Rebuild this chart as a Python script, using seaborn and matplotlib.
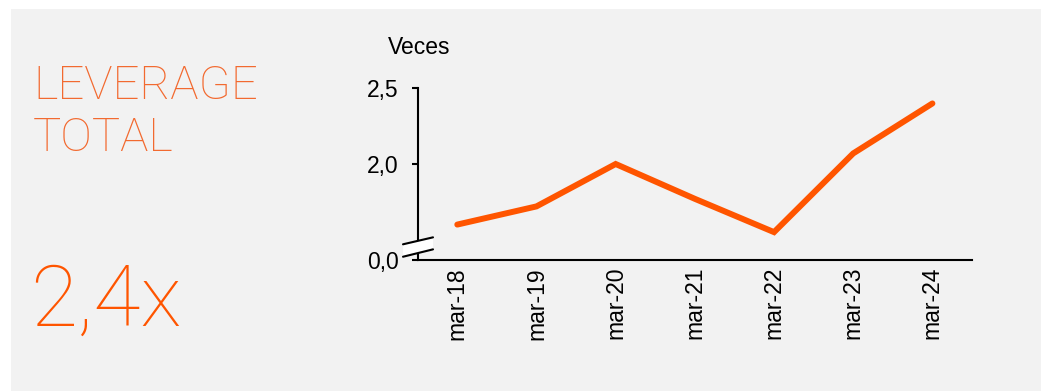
import matplotlib
matplotlib.use("Agg")
import matplotlib.pyplot as plt
from matplotlib.patches import Rectangle, Polygon
import seaborn as sns
import pandas as pd

# Leverage series (veces)
periods = ["mar-18", "mar-19", "mar-20", "mar-21", "mar-22", "mar-23", "mar-24"]
leverage = [1.60, 1.72, 2.00, 1.77, 1.55, 2.07, 2.40]

# Broken axis: the bottom of the axis stands for 0,0
axis_floor = 1.366
y_ticks = [axis_floor, 2.0, 2.5]
y_tick_labels = ["0,0", "2,0", "2,5"]

latest_value = "2,4x"

ORANGE = "#FF5500"
TITLE_ORANGE = "#F26A30"
PANEL = "#F2F2F2"
THIN = ["Roboto", "DejaVu Sans"]

sns.set_theme(style="white")
plt.rcParams["font.family"] = ["Liberation Sans", "DejaVu Sans"]

W, H = 1041, 391
fig = plt.figure(figsize=(W / 100, H / 100), dpi=100)
fig.patch.set_facecolor("white")
fig.patches.append(Rectangle((11 / W, 0), 1 - 11 / W, 1 - 9 / H,
                             transform=fig.transFigure, facecolor=PANEL,
                             edgecolor="none", zorder=-10))

ax = fig.add_axes([417.7 / W, 1 - 260 / H, (972 - 417.7) / W, (260 - 88.3) / H])
ax.set_facecolor("none")

df = pd.DataFrame({"periodo": periods, "leverage": leverage})
sns.lineplot(data=df, x="periodo", y="leverage", ax=ax, color=ORANGE,
             linewidth=4.3, solid_capstyle="round", solid_joinstyle="miter",
             sort=False)

ax.set_xlim(-0.5, len(periods) - 0.5)
ax.set_ylim(axis_floor, 2.5)
ax.set_yticks(y_ticks)
ax.set_yticklabels(y_tick_labels)
ax.set_xticks(range(len(periods)))
ax.set_xticklabels(periods, rotation=90)
ax.set_xlabel("")
ax.set_ylabel("")

for side in ("top", "right"):
    ax.spines[side].set_visible(False)
for side in ("left", "bottom"):
    ax.spines[side].set_color("black")
    ax.spines[side].set_linewidth(1.5)

ax.tick_params(axis="y", direction="out", length=4.5, width=1.5, color="black",
               labelsize=16.5, labelcolor="black", pad=9, left=True)
ax.tick_params(axis="x", length=0, labelsize=16.5, labelcolor="black", pad=5)

# Axis break marks
t = ax.transAxes
x0, x1 = -0.0265, 0.0276
brk = Polygon([(x0, 0.019), (x1, 0.062), (x1, 0.132), (x0, 0.0914)],
              closed=True, transform=t, facecolor="white", edgecolor="none",
              clip_on=False, zorder=5)
ax.add_patch(brk)
ax.plot([x0, x1], [0.0914, 0.132], transform=t, color="black", lw=1.5,
        clip_on=False, zorder=6)
ax.plot([x0, x1], [0.019, 0.062], transform=t, color="black", lw=1.5,
        clip_on=False, zorder=6)

ax.text(-0.0536, 1.235, "Veces", transform=t, ha="left", va="center",
        fontsize=16.5, color="black")

# Headline and latest value
fig.text(33 / W, 1 - 99.3 / H, "LEVERAGE", family=THIN,
         weight="light", fontsize=34, color=TITLE_ORANGE, va="baseline")
fig.text(33 / W, 1 - 151 / H, "TOTAL", family=THIN,
         weight="light", fontsize=34, color=TITLE_ORANGE, va="baseline")
fig.text(30 / W, 1 - 326 / H, latest_value, family=THIN,
         weight="light", fontsize=62, color=ORANGE, va="baseline")

fig.savefig("out.png", dpi=100, facecolor=fig.get_facecolor())
